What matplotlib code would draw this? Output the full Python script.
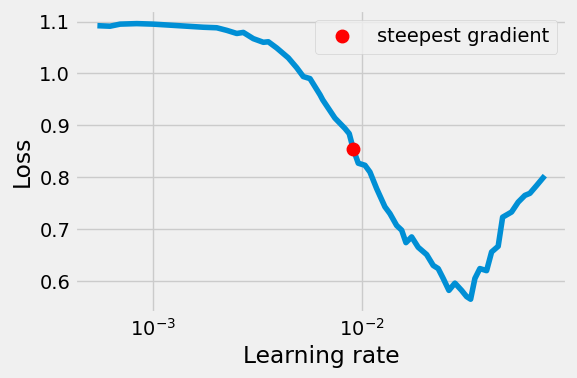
import matplotlib
matplotlib.use("Agg")
import matplotlib.pyplot as plt

plt.style.use("fivethirtyeight")

lrs = [5.41e-4, 6.22e-4, 6.95e-4, 8.35e-4, 1.0e-3, 1.206e-3, 1.449e-3, 1.740e-3,
       2.017e-3, 2.252e-3, 2.515e-3, 2.704e-3, 3.019e-3, 3.372e-3, 3.562e-3,
       3.908e-3, 4.440e-3, 4.871e-3, 5.236e-3, 5.638e-3, 6.295e-3, 6.49e-3,
       7.42e-3, 8.29e-3, 8.69e-3, 9.09e-3, 9.60e-3, 1.034e-2, 1.092e-2, 1.176e-2,
       1.288e-2, 1.361e-2, 1.466e-2, 1.549e-2, 1.624e-2, 1.729e-2, 1.859e-2,
       2.040e-2, 2.194e-2, 2.317e-2, 2.449e-2, 2.608e-2, 2.786e-2, 2.999e-2,
       3.170e-2, 3.313e-2, 3.473e-2, 3.669e-2, 3.951e-2, 4.175e-2, 4.489e-2,
       4.714e-2, 5.203e-2, 5.596e-2, 6.025e-2, 6.368e-2, 6.855e-2, 7.507e-2]
losses = [1.092, 1.091, 1.095, 1.096, 1.095, 1.093, 1.091, 1.089,
          1.088, 1.083, 1.077, 1.079, 1.067, 1.060, 1.061,
          1.049, 1.030, 1.011, 0.994, 0.990, 0.959, 0.949,
          0.914, 0.894, 0.884, 0.854, 0.827, 0.823, 0.810, 0.778,
          0.743, 0.730, 0.707, 0.698, 0.674, 0.685, 0.665,
          0.651, 0.630, 0.624, 0.605, 0.582, 0.596, 0.582,
          0.570, 0.565, 0.605, 0.624, 0.620, 0.656, 0.667,
          0.723, 0.733, 0.752, 0.765, 0.769, 0.784, 0.803]
steep_lr = 9.09e-3
steep_loss = 0.854

fig, ax = plt.subplots(figsize=(5.77, 3.78), dpi=100)
ax.plot(lrs, losses)
ax.plot(steep_lr, steep_loss, "o", markersize=9, color="red", label="steepest gradient")
ax.set_xscale("log")
ax.set_xlabel("Learning rate")
ax.set_ylabel("Loss")
ax.legend(loc="upper right")
fig.subplots_adjust(left=0.13, right=0.983, top=0.974, bottom=0.172)
fig.savefig("out.png", dpi=100, facecolor=fig.get_facecolor())
